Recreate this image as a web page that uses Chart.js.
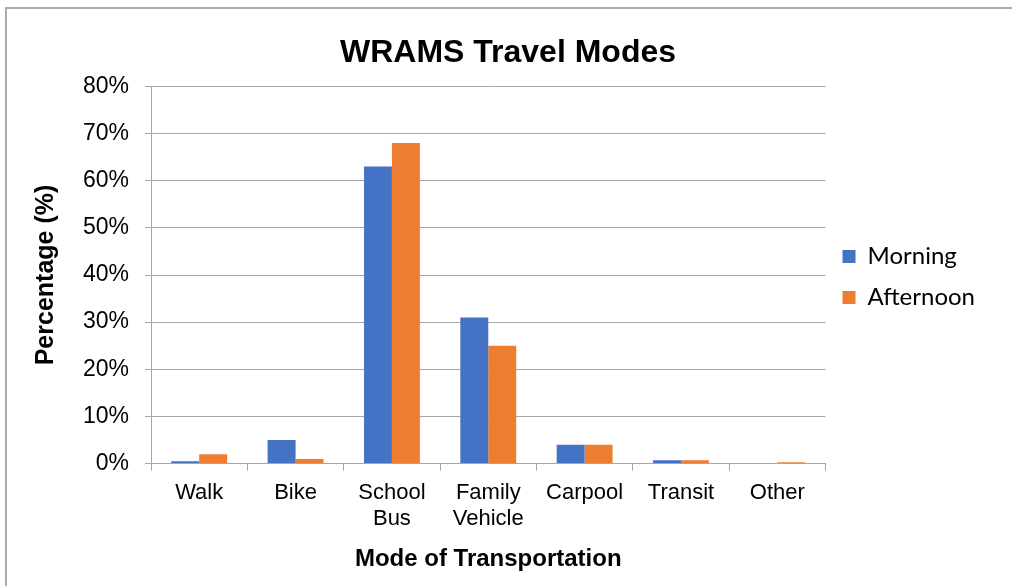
<!DOCTYPE html>
<html>
<head>
<meta charset="utf-8">
<script src="https://cdn.jsdelivr.net/npm/chart.js@4/dist/chart.umd.min.js"></script>
<style>
  html, body { margin: 0; padding: 0; background: #fff; }
  #wrap { width: 1012px; height: 586px; position: relative; }
</style>
</head>
<body>
<div id="wrap"><canvas id="modesChart" width="1012" height="586"></canvas></div>
<script>
// Daten
const categories = [['Walk'], ['Bike'], ['School', 'Bus'], ['Family', 'Vehicle'], ['Carpool'], ['Transit'], ['Other']];
const morning = [0.5, 5, 63, 31, 4, 0.7, 0];
const afternoon = [2, 1, 68, 25, 4, 0.7, 0.3];
const yTicks = [0, 10, 20, 30, 40, 50, 60, 70, 80];

const gridGrey = '#a6a6a6';
const arial = "'Liberation Sans', Arial, sans-serif";

// Rahmen wie im Original (oben/links sichtbar)
const frame = {
    id: 'frame',
    beforeDraw(chart) {
        const c = chart.ctx;
        c.save();
        c.fillStyle = '#fff';
        c.fillRect(0, 0, chart.width, chart.height);
        c.strokeStyle = '#aaaaaa';
        c.lineWidth = 2;
        c.strokeRect(6, 8, chart.width + 20, chart.height + 20);
        c.restore();
    }
};

new Chart(document.getElementById('modesChart'), {
    type: 'bar',
    data: {
        labels: categories,
        datasets: [
            { label: 'Morning', data: morning, backgroundColor: '#4472C4', categoryPercentage: 0.58, barPercentage: 1.0 },
            { label: 'Afternoon', data: afternoon, backgroundColor: '#ED7D31', categoryPercentage: 0.58, barPercentage: 1.0 }
        ]
    },
    options: {
        responsive: false,
        animation: false,
        layout: { padding: { left: 31, right: 27, top: 28, bottom: 12 } },
        plugins: {
            title: {
                display: true,
                text: 'WRAMS Travel Modes',
                color: '#000',
                font: { family: arial, size: 32, weight: 'bold' },
                padding: { top: 6, bottom: 14 }
            },
            legend: {
                display: true,
                position: 'right',
                align: 'start',
                // leerer Titel schiebt die Einträge auf Höhe der Plotmitte
                title: { display: true, text: ' ', padding: { top: 185, bottom: 0 } },
                labels: {
                    color: '#000',
                    boxWidth: 13,
                    boxHeight: 13,
                    padding: 17,
                    font: { family: "Lato, 'Open Sans', sans-serif", size: 24 }
                }
            },
            tooltip: { enabled: false }
        },
        scales: {
            x: {
                offset: true,
                grid: { display: true, drawOnChartArea: false, offset: true, color: gridGrey, tickLength: 7 },
                border: { color: gridGrey },
                ticks: { color: '#000', font: { family: arial, size: 22, lineHeight: 1.15 }, padding: 10, maxRotation: 0, autoSkip: false },
                title: {
                    display: true,
                    text: 'Mode of Transportation',
                    color: '#000',
                    font: { family: arial, size: 24, weight: 'bold' },
                    padding: { top: 4, bottom: 0 }
                }
            },
            y: {
                min: 0,
                max: 80,
                afterBuildTicks(axis) { axis.ticks = yTicks.map(v => ({ value: v })); },
                grid: { color: gridGrey, tickLength: 6 },
                border: { color: gridGrey },
                ticks: {
                    color: '#000',
                    font: { family: arial, size: 23 },
                    padding: 16,
                    callback: v => v + '%'
                },
                title: {
                    display: true,
                    text: 'Percentage (%)',
                    color: '#000',
                    font: { family: arial, size: 25, weight: 'bold' },
                    padding: { top: 0, bottom: 6 }
                }
            }
        }
    },
    plugins: [frame]
});
</script>
</body>
</html>
